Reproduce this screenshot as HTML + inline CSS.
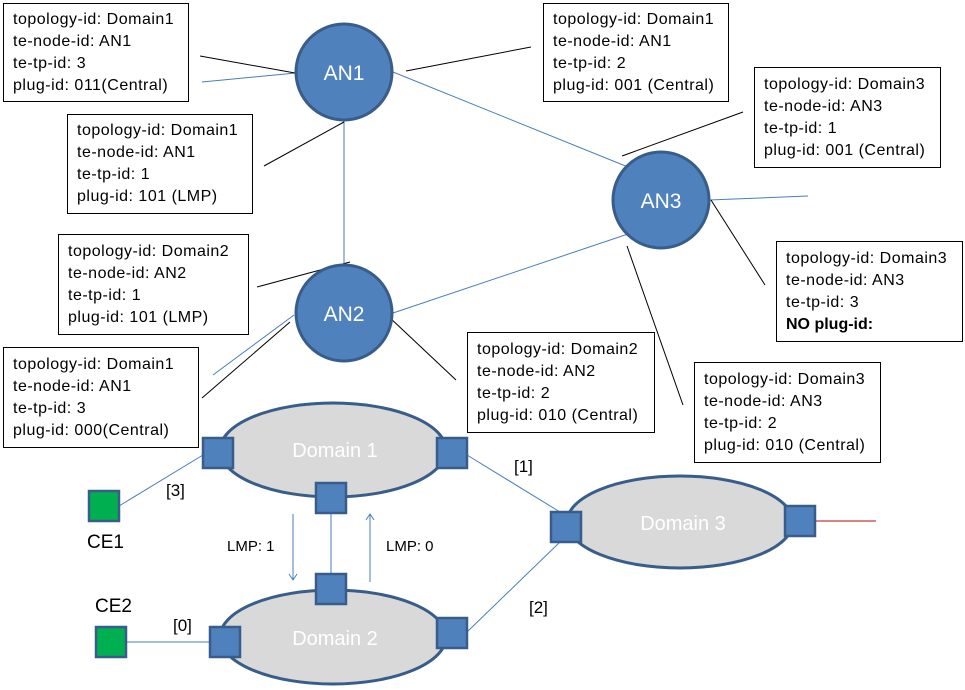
<!DOCTYPE html>
<html><head><meta charset="utf-8"><style>
html,body{margin:0;padding:0;background:#fff;}
svg{display:block;font-family:"Liberation Sans",sans-serif;}
.t{font-size:16px;fill:#000;letter-spacing:0.5px;}
</style></head><body>
<svg width="965" height="690" viewBox="0 0 965 690" xmlns="http://www.w3.org/2000/svg">
<defs>
<marker id="ah" markerWidth="12" markerHeight="12" refX="9" refY="5" orient="auto" markerUnits="userSpaceOnUse">
<path d="M3,1 L9,5 L3,9" fill="none" stroke="#4a7ebb" stroke-width="1"/>
</marker>
</defs>
<g stroke="#4a7ebb" stroke-width="1" fill="none">
<line x1="344" y1="120" x2="344" y2="264"/>
<line x1="393" y1="72" x2="628" y2="167"/>
<line x1="393" y1="313" x2="628" y2="234"/>
<line x1="202" y1="82" x2="296" y2="73"/>
<line x1="709" y1="200" x2="808" y2="196"/>
<line x1="294" y1="315" x2="213" y2="375"/>
<line x1="203" y1="455" x2="119" y2="506"/>
<line x1="467" y1="455" x2="560" y2="512"/>
<line x1="467" y1="632" x2="560" y2="542"/>
<line x1="126" y1="642" x2="209" y2="642"/>
<line x1="331" y1="513" x2="331" y2="574"/>
<line x1="293" y1="514" x2="293" y2="580" marker-end="url(#ah)"/>
<line x1="370" y1="582" x2="370" y2="514" marker-end="url(#ah)"/>
</g>
<line x1="816" y1="521" x2="876" y2="521" stroke="#c00000" stroke-width="1"/>
<g stroke="#000" stroke-width="1">
<line x1="200" y1="56" x2="295" y2="73"/>
<line x1="406" y1="71" x2="531" y2="47"/>
<line x1="264" y1="166" x2="344" y2="122"/>
<line x1="622" y1="156" x2="743" y2="112"/>
<line x1="257" y1="287" x2="350" y2="262"/>
<line x1="290" y1="322" x2="202" y2="398"/>
<line x1="388" y1="316" x2="456" y2="380"/>
<line x1="627" y1="246" x2="683" y2="405"/>
<line x1="711" y1="200" x2="765" y2="285"/>
</g>
<g fill="#d9d9d9" stroke="#385d8a" stroke-width="3">
<ellipse cx="333" cy="450" rx="113" ry="47"/>
<ellipse cx="333" cy="637" rx="113" ry="47"/>
<ellipse cx="680" cy="522" rx="113" ry="46"/>
</g>
<g fill="#fff" font-size="20" text-anchor="middle">
<text x="335" y="457">Domain 1</text>
<text x="335" y="645">Domain 2</text>
<text x="683" y="530">Domain 3</text>
</g>
<g fill="#4f81bd" stroke="#385d8a" stroke-width="2.5">
<rect x="203" y="438" width="30" height="30"/>
<rect x="437" y="438" width="30" height="30"/>
<rect x="316" y="483" width="30" height="30"/>
<rect x="316" y="574" width="30" height="30"/>
<rect x="210" y="627" width="30" height="30"/>
<rect x="437" y="618" width="30" height="30"/>
<rect x="551" y="512" width="30" height="30"/>
<rect x="785" y="506" width="30" height="30"/>
</g>
<g fill="#00b050" stroke="#385d8a" stroke-width="2.5">
<rect x="89" y="491" width="30" height="30"/>
<rect x="96" y="627" width="30" height="30"/>
</g>
<g fill="#4f81bd" stroke="#385d8a" stroke-width="3">
<circle cx="344" cy="72" r="48"/>
<circle cx="344" cy="313" r="48"/>
<circle cx="661" cy="200" r="48"/>
</g>
<g fill="#fff" font-size="21" text-anchor="middle">
<text x="344" y="80">AN1</text>
<text x="344" y="321">AN2</text>
<text x="661" y="208">AN3</text>
</g>
<g font-size="17" fill="#000">
<text x="514" y="472">[1]</text>
<text x="166" y="496">[3]</text>
<text x="529" y="613">[2]</text>
<text x="173" y="631">[0]</text>
<text x="87" y="548" font-size="19">CE1</text>
<text x="95" y="612" font-size="19">CE2</text>
<text x="227" y="551" font-size="15">LMP: 1</text>
<text x="386" y="551" font-size="15">LMP: 0</text>
</g>
<g fill="#fff" stroke="#000" stroke-width="1">
<rect x="3.5" y="3.5" width="185" height="98"/>
<rect x="543.5" y="3.5" width="185" height="98"/>
<rect x="67.5" y="114.5" width="185" height="99"/>
<rect x="754.5" y="67.5" width="186" height="100"/>
<rect x="58.5" y="234.5" width="190" height="100"/>
<rect x="776.5" y="241.5" width="186" height="100"/>
<rect x="3.5" y="347.5" width="195" height="100"/>
<rect x="467.5" y="332.5" width="187" height="100"/>
<rect x="694.5" y="362.5" width="186" height="100"/>
</g>
<g class="t">
<text x="13" y="24">topology-id: Domain1</text><text x="13" y="46">te-node-id: AN1</text><text x="13" y="68">te-tp-id: 3</text><text x="13" y="90">plug-id: 011(Central)</text>
<text x="553" y="24">topology-id: Domain1</text><text x="553" y="46">te-node-id: AN1</text><text x="553" y="68">te-tp-id: 2</text><text x="553" y="90">plug-id: 001 (Central)</text>
<text x="77" y="135">topology-id: Domain1</text><text x="77" y="157">te-node-id: AN1</text><text x="77" y="179">te-tp-id: 1</text><text x="77" y="201">plug-id: 101 (LMP)</text>
<text x="764" y="89">topology-id: Domain3</text><text x="764" y="111">te-node-id: AN3</text><text x="764" y="133">te-tp-id: 1</text><text x="764" y="155">plug-id: 001 (Central)</text>
<text x="68" y="256">topology-id: Domain2</text><text x="68" y="278">te-node-id: AN2</text><text x="68" y="300">te-tp-id: 1</text><text x="68" y="322">plug-id: 101 (LMP)</text>
<text x="786" y="263">topology-id: Domain3</text><text x="786" y="285">te-node-id: AN3</text><text x="786" y="307">te-tp-id: 3</text><text x="786" y="329" font-weight="bold" letter-spacing="0">NO plug-id:</text>
<text x="13" y="369">topology-id: Domain1</text><text x="13" y="391">te-node-id: AN1</text><text x="13" y="413">te-tp-id: 3</text><text x="13" y="435">plug-id: 000(Central)</text>
<text x="477" y="354">topology-id: Domain2</text><text x="477" y="376">te-node-id: AN2</text><text x="477" y="398">te-tp-id: 2</text><text x="477" y="420">plug-id: 010 (Central)</text>
<text x="704" y="384">topology-id: Domain3</text><text x="704" y="406">te-node-id: AN3</text><text x="704" y="428">te-tp-id: 2</text><text x="704" y="450">plug-id: 010 (Central)</text>
</g>
</svg>
</body></html>
